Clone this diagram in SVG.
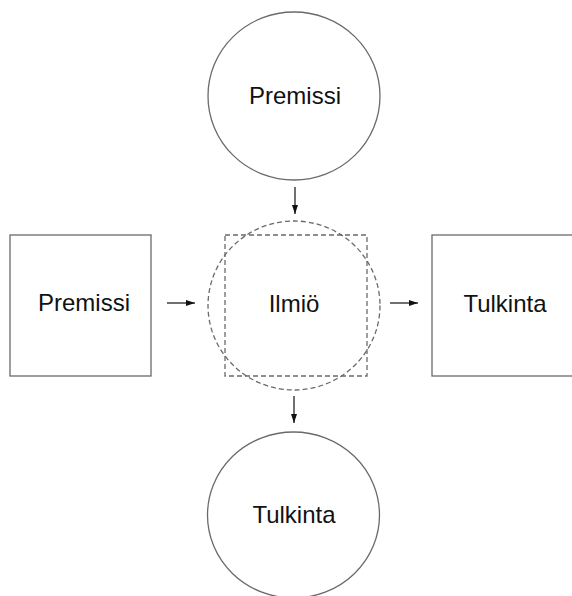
<svg xmlns="http://www.w3.org/2000/svg" width="572" height="596" viewBox="0 0 572 596">
<defs>
<style>
.node{fill:#ffffff;stroke:#6a6a6a;stroke-width:1.3}
.dash{fill:none;stroke:#6a6a6a;stroke-width:1.3;stroke-dasharray:5,3}
.lbl{font-family:"Liberation Sans",Arial,sans-serif;font-size:24px;fill:#111;text-anchor:middle}
.conn{stroke:#111;stroke-width:1.2;fill:none;marker-end:url(#ah)}
</style>
<marker id="ah" markerUnits="userSpaceOnUse" markerWidth="10" markerHeight="8" refX="9" refY="4" orient="auto">
<path d="M0,1 L9,4 L0,7 z" fill="#111"/>
</marker>
</defs>
<rect width="572" height="596" fill="#ffffff"/>
<g id="premissi-top">
<ellipse class="node" cx="294" cy="96" rx="86" ry="84"/>
<text class="lbl" x="295" y="104">Premissi</text>
</g>
<g id="premissi-left">
<rect class="node" x="10" y="235" width="141" height="141"/>
<text class="lbl" x="84" y="311">Premissi</text>
</g>
<g id="ilmio">
<rect class="dash" x="225" y="235" width="142" height="141"/>
<ellipse class="dash" cx="294" cy="305.5" rx="86" ry="84.5"/>
<text class="lbl" x="294" y="312">Ilmiö</text>
</g>
<g id="tulkinta-right">
<rect class="node" x="432" y="235" width="142" height="141"/>
<text class="lbl" x="505" y="312">Tulkinta</text>
</g>
<g id="tulkinta-bottom">
<ellipse class="node" cx="293.5" cy="515" rx="86" ry="83"/>
<text class="lbl" x="294" y="523">Tulkinta</text>
</g>
<g id="connectors">
<line class="conn" x1="295" y1="187" x2="295" y2="214"/>
<line class="conn" x1="167" y1="303" x2="195" y2="303"/>
<line class="conn" x1="390" y1="303" x2="418" y2="303"/>
<line class="conn" x1="294" y1="396" x2="294" y2="423"/>
</g>
</svg>
